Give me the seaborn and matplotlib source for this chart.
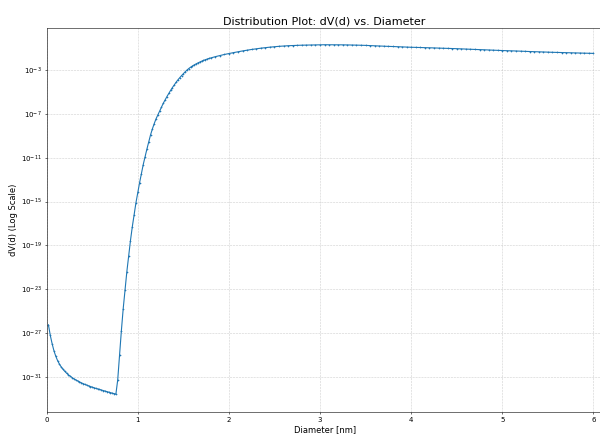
import numpy as np
import matplotlib
matplotlib.use("Agg")
import matplotlib.pyplot as plt
from matplotlib.ticker import FixedLocator, NullLocator, LogFormatterSciNotation
import seaborn as sns

# diameter [nm], fine steps through the steep part, coarser on the plateau
diameter = [
    0.02, 0.04, 0.06, 0.08, 0.10, 0.12, 0.14, 0.16, 0.18, 0.20,
    0.22, 0.24, 0.26, 0.28, 0.30, 0.32, 0.34, 0.36, 0.38, 0.40,
    0.42, 0.44, 0.46, 0.48, 0.50, 0.52, 0.54, 0.56, 0.58, 0.60,
    0.62, 0.64, 0.66, 0.68, 0.70, 0.72, 0.74, 0.76, 0.78, 0.80,
    0.82, 0.84, 0.86, 0.88, 0.90, 0.92, 0.94, 0.96, 0.98, 1.00,
    1.02, 1.04, 1.06, 1.08, 1.10, 1.12, 1.14, 1.16, 1.18, 1.20,
    1.22, 1.24, 1.26, 1.28, 1.30, 1.32, 1.34, 1.36, 1.38, 1.40,
    1.42, 1.44, 1.46, 1.48, 1.50, 1.52, 1.54, 1.56, 1.58, 1.60,
    1.62, 1.64, 1.66, 1.68, 1.70, 1.72, 1.74, 1.76, 1.78, 1.80,
    1.85, 1.90, 1.95, 2.00, 2.05, 2.10, 2.15, 2.20, 2.25, 2.30,
    2.35, 2.40, 2.45, 2.50, 2.55, 2.60, 2.65, 2.70, 2.75, 2.80,
    2.85, 2.90, 2.95, 3.00, 3.05, 3.10, 3.15, 3.20, 3.25, 3.30,
    3.35, 3.40, 3.45, 3.50, 3.55, 3.60, 3.65, 3.70, 3.75, 3.80,
    3.85, 3.90, 3.95, 4.00, 4.05, 4.10, 4.15, 4.20, 4.25, 4.30,
    4.35, 4.40, 4.45, 4.50, 4.55, 4.60, 4.65, 4.70, 4.75, 4.80,
    4.85, 4.90, 4.95, 5.00, 5.05, 5.10, 5.15, 5.20, 5.25, 5.30,
    5.35, 5.40, 5.45, 5.50, 5.55, 5.60, 5.65, 5.70, 5.75, 5.80,
    5.85, 5.90, 5.95, 6.00,
]

# log10 of dV(d)
log_dv = [
    -26.25, -27.20, -27.95, -28.60, -29.10, -29.50, -29.82, -30.08, -30.30, -30.49,
    -30.66, -30.81, -30.94, -31.06, -31.17, -31.27, -31.36, -31.45, -31.53, -31.61,
    -31.68, -31.75, -31.81, -31.87, -31.93, -31.99, -32.04, -32.09, -32.14, -32.19,
    -32.24, -32.29, -32.34, -32.38, -32.43, -32.47, -32.52, -32.57, -31.27, -28.99,
    -26.80, -24.79, -23.05, -21.41, -19.95, -18.55, -17.30, -16.21, -15.11, -14.17,
    -13.28, -12.46, -11.62, -10.90, -10.22, -9.58, -8.92, -8.38, -7.90, -7.46,
    -7.10, -6.72, -6.36, -6.03, -5.72, -5.42, -5.13, -4.86, -4.60, -4.36,
    -4.12, -3.90, -3.70, -3.51, -3.33, -3.16, -3.00, -2.86, -2.735, -2.625,
    -2.525, -2.435, -2.35, -2.27, -2.195, -2.125, -2.06, -2.00, -1.945, -1.895,
    -1.78, -1.675, -1.58, -1.49, -1.41, -1.33, -1.255, -1.185, -1.12, -1.06,
    -1.005, -0.955, -0.91, -0.87, -0.835, -0.805, -0.78, -0.76, -0.745, -0.73,
    -0.72, -0.71, -0.70, -0.695, -0.69, -0.69, -0.69, -0.695, -0.70, -0.705,
    -0.715, -0.725, -0.735, -0.75, -0.77, -0.79, -0.80, -0.82, -0.84, -0.85,
    -0.87, -0.89, -0.90, -0.92, -0.93, -0.94, -0.96, -0.97, -0.98, -1.00,
    -1.01, -1.02, -1.04, -1.05, -1.07, -1.08, -1.10, -1.12, -1.13, -1.15,
    -1.17, -1.18, -1.20, -1.22, -1.23, -1.25, -1.26, -1.28, -1.29, -1.31,
    -1.32, -1.34, -1.35, -1.37, -1.38, -1.39, -1.40, -1.42, -1.43, -1.44,
    -1.45, -1.46, -1.47, -1.48,
]

ytick_exps = [-31, -27, -23, -19, -15, -11, -7, -3]

dv = 10.0 ** np.array(log_dv)

fig = plt.figure(figsize=(12, 8.72), dpi=50)
ax = fig.add_axes([0.0777, 0.0557, 0.9266, 0.8794])

sns.lineplot(x=diameter, y=dv, ax=ax, color="#1f77b4", linewidth=1.6,
             marker=".", markersize=4, markeredgecolor="#1f77b4",
             markerfacecolor="#1f77b4", markeredgewidth=0.3)

ax.set_yscale("log")
ax.set_xlim(0, 6.1)
ax.set_ylim(10 ** -34.17, 10 ** 0.81)
ax.yaxis.set_major_locator(FixedLocator([10.0 ** e for e in ytick_exps]))
ax.yaxis.set_major_formatter(LogFormatterSciNotation())
ax.yaxis.set_minor_locator(NullLocator())

ax.grid(True, which="major", linestyle="--", color="#b0b0b0", alpha=0.6, linewidth=0.8)

ax.set_title("Distribution Plot: dV(d) vs. Diameter", fontsize=16)
ax.set_xlabel("Diameter [nm]", fontsize=12)
ax.set_ylabel("dV(d) (Log Scale)", fontsize=12)
ax.tick_params(labelsize=10)

fig.savefig("out.png", dpi=50)
